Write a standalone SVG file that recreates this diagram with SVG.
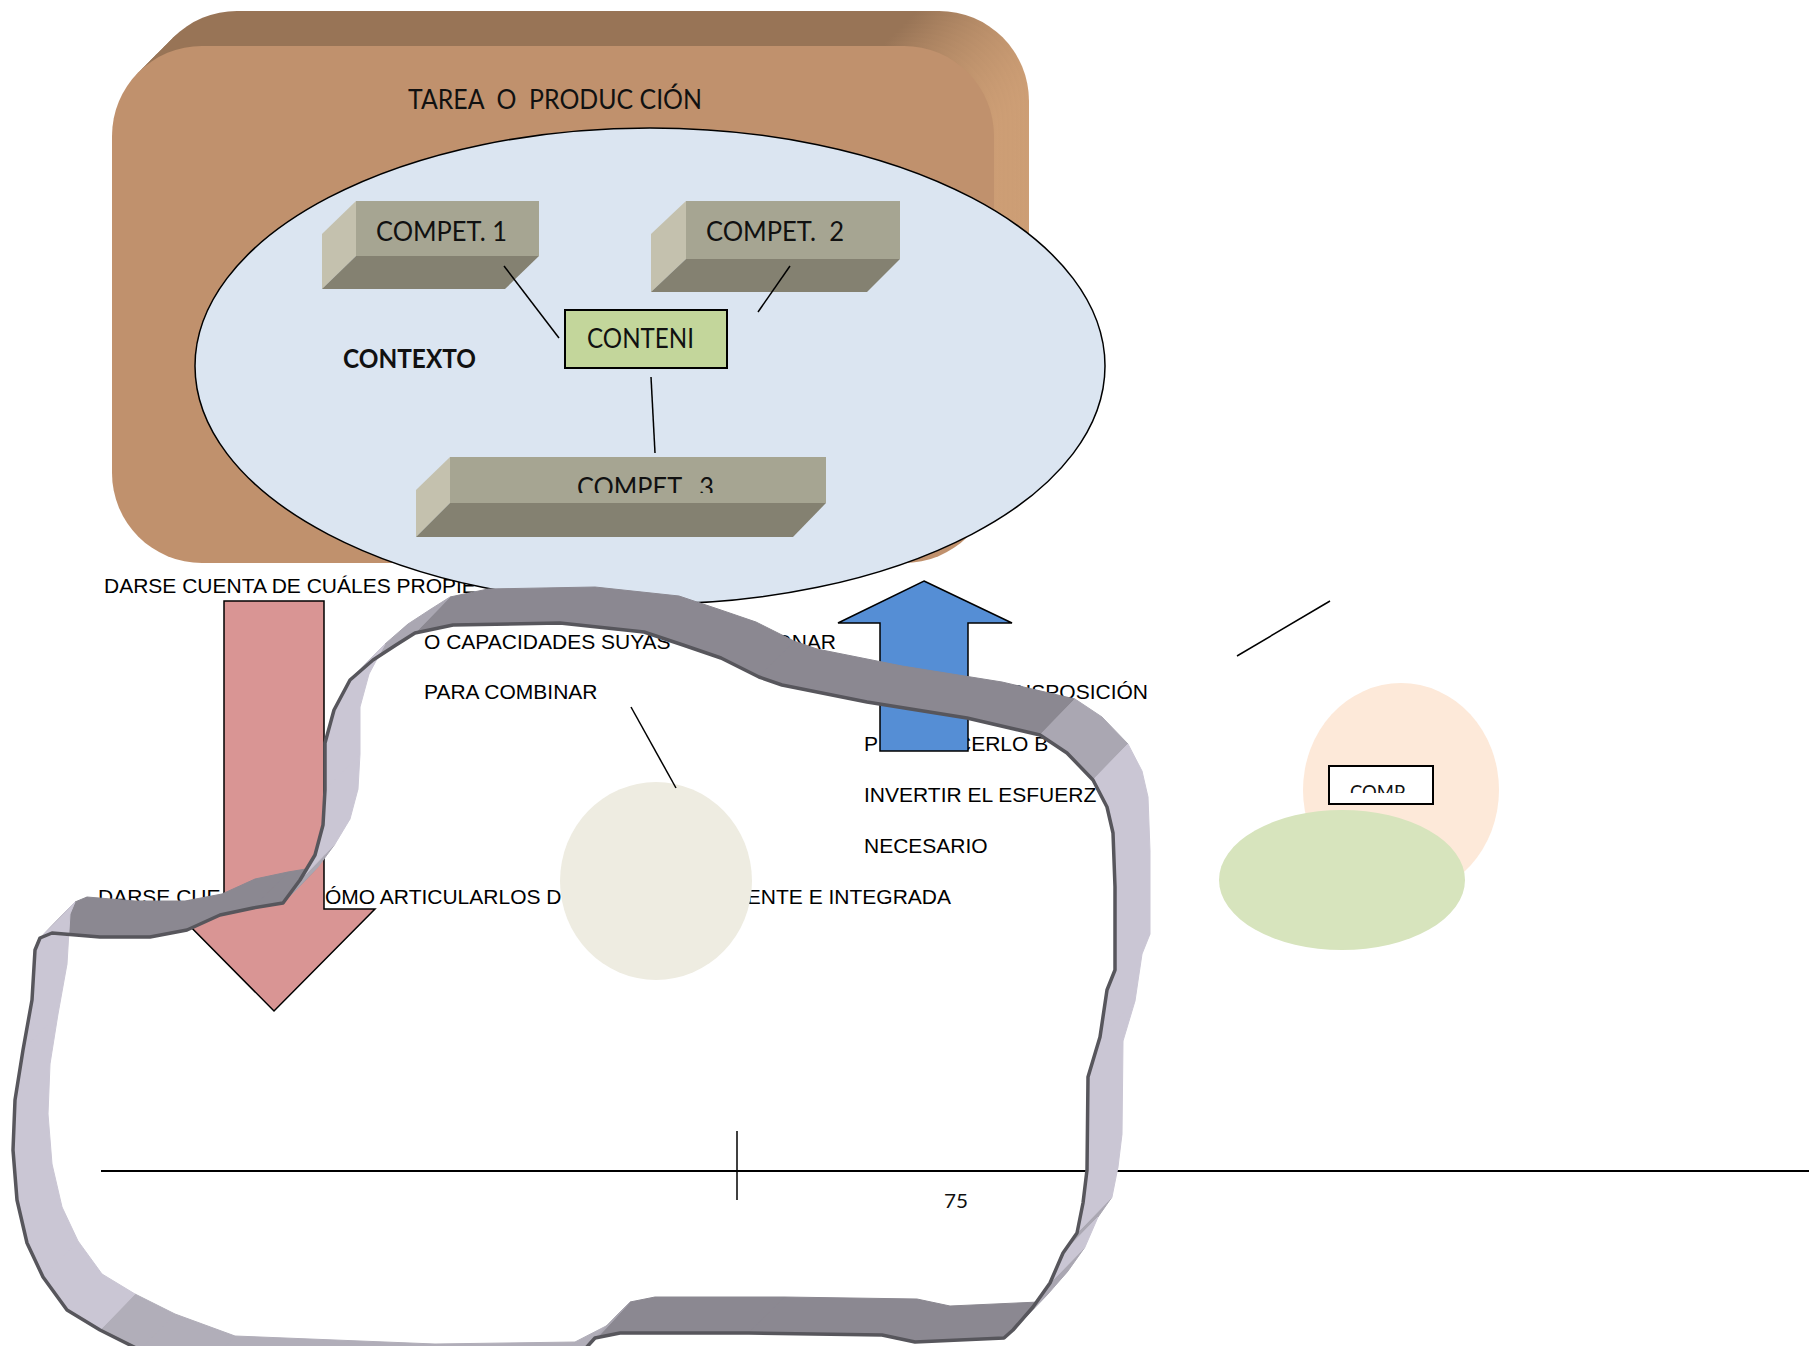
<svg xmlns="http://www.w3.org/2000/svg" xmlns:xlink="http://www.w3.org/1999/xlink" width="1809" height="1346" viewBox="0 0 1809 1346">
<style>
.cal{font-family:Lato,"Open Sans","DejaVu Sans",sans-serif;fill:#111}
.ar{font-family:"Liberation Sans",Arial,sans-serif;font-size:21px;fill:#000}
.ln{stroke:#000;stroke-width:1.5;fill:none}
.ctop{fill:#a6a592}.cleft{fill:#c4c1ae}.cbot{fill:#848171}
.rd{fill:#8b8891;stroke:#8b8891;stroke-width:1;stroke-linejoin:round}
.rb{fill:#b1aeb9;stroke:#b1aeb9;stroke-width:1;stroke-linejoin:round}
.rm{fill:#aaa7b2;stroke:#aaa7b2;stroke-width:1;stroke-linejoin:round}
.rl{fill:#cac6d4;stroke:#cac6d4;stroke-width:1;stroke-linejoin:round}
</style>
<defs>
<linearGradient id="gBack" gradientUnits="userSpaceOnUse" x1="880" y1="0" x2="1025" y2="0">
<stop offset="0" stop-color="#987456"/><stop offset="1" stop-color="#dcaa7e"/>
</linearGradient>
<rect id="brownR" x="112" y="46" width="882" height="517" rx="90" ry="90"/>
<clipPath id="clipC3"><rect x="0" y="0" width="1809" height="493"/></clipPath>
<clipPath id="clipComp"><rect x="0" y="0" width="1809" height="793"/></clipPath>
</defs>
<rect width="1809" height="1346" fill="#fff"/>

<g id="tarea">
<g fill="url(#gBack)">
<use xlink:href="#brownR" transform="translate(35,-35)"/>
<use xlink:href="#brownR" transform="translate(30.6,-30.6)"/>
<use xlink:href="#brownR" transform="translate(26.2,-26.2)"/>
<use xlink:href="#brownR" transform="translate(21.9,-21.9)"/>
<use xlink:href="#brownR" transform="translate(17.5,-17.5)"/>
<use xlink:href="#brownR" transform="translate(13.1,-13.1)"/>
<use xlink:href="#brownR" transform="translate(8.7,-8.7)"/>
<use xlink:href="#brownR" transform="translate(4.4,-4.4)"/>
</g>
<use xlink:href="#brownR" fill="#c0916d"/>
<text class="cal" x="408" y="109" font-size="26" textLength="294" lengthAdjust="spacingAndGlyphs" xml:space="preserve">TAREA  O  PRODUC CIÓN</text>
</g>

<g id="texts-left">
<text class="ar" x="104" y="593">DARSE CUENTA DE CUÁLES PROPIE</text>
<text class="ar" x="424" y="649">O CAPACIDADES SUYAS</text>
<text class="ar" x="836" y="649" text-anchor="end">ONAR</text>
<text class="ar" x="424" y="699">PARA COMBINAR</text>
<text class="ar" x="98" y="904">DARSE CUE</text>
<text class="ar" x="325" y="904">ÓMO ARTICULARLOS D</text>
<text class="ar" x="951" y="904" text-anchor="end">ENTE E INTEGRADA</text>
</g>
<g id="texts-right">
<text class="ar" x="1148" y="699" text-anchor="end">DISPOSICIÓN</text>
<text class="ar" x="864" y="751">P</text>
<text class="ar" x="956" y="751">CERLO B</text>
<text class="ar" x="864" y="802">INVERTIR EL ESFUERZ</text>
<text class="ar" x="864" y="853">NECESARIO</text>
</g>

<g id="contexto">
<ellipse cx="650" cy="366" rx="455" ry="238" fill="#dbe5f1" stroke="#000" stroke-width="1.5"/>
<text class="cal" x="343" y="368" font-size="26" font-weight="bold" textLength="133" lengthAdjust="spacingAndGlyphs">CONTEXTO</text>
</g>

<g id="compet1">
<polygon class="cleft" points="322,234 356,201 356,256 322,289"/>
<rect class="ctop" x="356" y="201" width="183" height="55"/>
<polygon class="cbot" points="356,256 539,256 505,289 322,289"/>
<text class="cal" x="376" y="241" font-size="26" textLength="131" lengthAdjust="spacingAndGlyphs">COMPET. 1</text>
</g>
<g id="compet2">
<polygon class="cleft" points="651,234 686,201 686,259 651,292"/>
<rect class="ctop" x="686" y="201" width="214" height="58"/>
<polygon class="cbot" points="686,259 900,259 867,292 651,292"/>
<text class="cal" x="706" y="241" font-size="26" textLength="138" lengthAdjust="spacingAndGlyphs" xml:space="preserve">COMPET.  2</text>
</g>
<g id="compet3">
<polygon class="cleft" points="416,490 450,457 450,503 416,537"/>
<rect class="ctop" x="450" y="457" width="376" height="46"/>
<polygon class="cbot" points="450,503 826,503 793,537 416,537"/>
<text class="cal" x="577" y="497" font-size="26" textLength="137" lengthAdjust="spacingAndGlyphs" clip-path="url(#clipC3)" xml:space="preserve">COMPET.  3</text>
</g>
<g id="contenido">
<rect x="565" y="310" width="162" height="58" fill="#c3d69b" stroke="#000" stroke-width="2"/>
<text class="cal" x="587" y="348" font-size="26" textLength="107" lengthAdjust="spacingAndGlyphs">CONTENI</text>
</g>

<g id="arrow-down">
<polygon points="224,601 324,601 324,909 375,909 274,1011 173,909 224,909" fill="#d99594" stroke="#000" stroke-width="1.5"/>
</g>
<g id="arrow-up">
<polygon points="924,581 1012,623 968,623 968,751 880,751 880,623 838,623" fill="#558ed5" stroke="#000" stroke-width="1.5"/>
</g>

<g id="circulo">
<ellipse cx="656" cy="881" rx="96" ry="99" fill="#eeece1"/>
</g>

<g id="comp">
<ellipse cx="1401" cy="790" rx="98" ry="107" fill="#fde9d9"/>
<rect x="1329" y="766" width="104" height="38" fill="#fff" stroke="#000" stroke-width="2"/>
<text class="cal" x="1350" y="799" font-size="20" textLength="55" lengthAdjust="spacingAndGlyphs" clip-path="url(#clipComp)">COMP</text>
<ellipse cx="1342" cy="880" rx="123" ry="70" fill="#d7e4bd"/>
</g>

<g id="connectors">
<line class="ln" x1="504" y1="266" x2="559" y2="338"/>
<line class="ln" x1="790" y1="266" x2="758" y2="312"/>
<line class="ln" x1="651" y1="377" x2="655" y2="453"/>
<line class="ln" x1="631" y1="707" x2="676" y2="788"/>
<line class="ln" x1="1237" y1="656" x2="1330" y2="601"/>
</g>

<g id="footer">
<line x1="101" y1="1171" x2="1809" y2="1171" stroke="#000" stroke-width="2"/>
<line x1="737" y1="1131" x2="737" y2="1200" stroke="#000" stroke-width="1.5"/>
<text class="cal" x="944" y="1208" font-size="20" textLength="24" lengthAdjust="spacingAndGlyphs">75</text>
</g>

<g id="cinta">
<path class="rd" d="M40,938 L52,933 L87,897 L75,902Z M52,933 L100,937 L135,901 L87,897Z M100,937 L150,937 L185,901 L135,901Z M150,937 L187,930 L222,894 L185,901Z M187,930 L220,915 L255,879 L222,894Z M220,915 L253,908 L288,872 L255,879Z M253,908 L283,903 L318,867 L288,872Z M415,633 L453,625 L488,589 L450,597Z M453,625 L560,623 L595,587 L488,589Z M560,623 L644,632 L679,596 L595,587Z M644,632 L683,645 L718,609 L679,596Z M683,645 L721,658 L756,622 L718,609Z M721,658 L759,677 L794,641 L756,622Z M759,677 L782,685 L817,649 L794,641Z M782,685 L867,702 L902,666 L817,649Z M867,702 L967,718 L1002,682 L902,666Z M967,718 L1040,735 L1075,699 L1002,682Z M1004,1338 L915,1342 L950,1306 L1039,1302Z M915,1342 L882,1335 L917,1299 L950,1306Z M882,1335 L749,1333 L784,1297 L917,1299Z M749,1333 L620,1333 L655,1297 L784,1297Z M620,1333 L595,1338 L630,1302 L655,1297Z"/>
<path class="rb" d="M575,1360 L540,1378 L575,1342 L610,1324Z M540,1378 L400,1380 L435,1344 L575,1342Z M400,1380 L200,1372 L235,1336 L435,1344Z M200,1372 L140,1350 L175,1314 L235,1336Z M140,1350 L100,1330 L135,1294 L175,1314Z"/>
<path class="rm" d="M283,903 L300,880 L335,844 L318,867Z M350,680 L373,660 L408,624 L385,644Z M373,660 L396,645 L431,609 L408,624Z M396,645 L415,633 L450,597 L431,609Z M1040,735 L1067,753 L1102,717 L1075,699Z M1067,753 L1093,780 L1128,744 L1102,717Z M1077,1233 L1063,1253 L1098,1217 L1112,1197Z M1050,1283 L1033,1307 L1068,1271 L1085,1247Z M1033,1307 L1013,1330 L1048,1294 L1068,1271Z M1013,1330 L1004,1338 L1039,1302 L1048,1294Z M595,1338 L575,1360 L610,1324 L630,1302Z"/>
<path class="rl" d="M100,1330 L67,1310 L102,1274 L135,1294Z M67,1310 L43,1277 L78,1241 L102,1274Z M300,880 L315,855 L350,819 L335,844Z M315,855 L323,825 L358,789 L350,819Z M323,825 L325,790 L360,754 L358,789Z M325,790 L325,743 L360,707 L360,754Z M325,743 L334,710 L369,674 L360,707Z M334,710 L350,680 L385,644 L369,674Z M1093,780 L1107,807 L1142,771 L1128,744Z M1107,807 L1113,833 L1148,797 L1142,771Z M1113,833 L1115,887 L1150,851 L1148,797Z M1115,887 L1115,970 L1150,934 L1150,851Z M1115,970 L1107,990 L1142,954 L1150,934Z M1107,990 L1100,1037 L1135,1001 L1142,954Z M1100,1037 L1088,1077 L1123,1041 L1135,1001Z M1088,1077 L1087,1170 L1122,1134 L1123,1041Z M1087,1170 L1083,1203 L1118,1167 L1122,1134Z M1083,1203 L1077,1233 L1112,1197 L1118,1167Z M1063,1253 L1050,1283 L1085,1247 L1098,1217Z M43,1277 L27,1243 L62,1207 L78,1241Z M27,1243 L17,1200 L52,1164 L62,1207Z M17,1200 L13,1150 L48,1114 L52,1164Z M13,1150 L15,1100 L50,1064 L48,1114Z M15,1100 L23,1050 L58,1014 L50,1064Z M23,1050 L32,1000 L67,964 L58,1014Z M32,1000 L35,950 L70,914 L67,964Z M35,950 L40,938 L75,902 L70,914Z"/>
<path d="M40,938 L52,933 L100,937 L150,937 L187,930 L220,915 L253,908 L283,903 L300,880 L315,855 L323,825 L325,790 L325,743 L334,710 L350,680 L373,660 L396,645 L415,633 L453,625 L560,623 L644,632 L683,645 L721,658 L759,677 L782,685 L867,702 L967,718 L1040,735 L1067,753 L1093,780 L1107,807 L1113,833 L1115,887 L1115,970 L1107,990 L1100,1037 L1088,1077 L1087,1170 L1083,1203 L1077,1233 L1063,1253 L1050,1283 L1033,1307 L1013,1330 L1004,1338 L915,1342 L882,1335 L749,1333 L620,1333 L595,1338 L575,1360 L540,1378 L400,1380 L200,1372 L140,1350 L100,1330 L67,1310 L43,1277 L27,1243 L17,1200 L13,1150 L15,1100 L23,1050 L32,1000 L35,950 Z" fill="none" stroke="#57565c" stroke-width="3.5" stroke-linejoin="round"/>
</g>
</svg>
